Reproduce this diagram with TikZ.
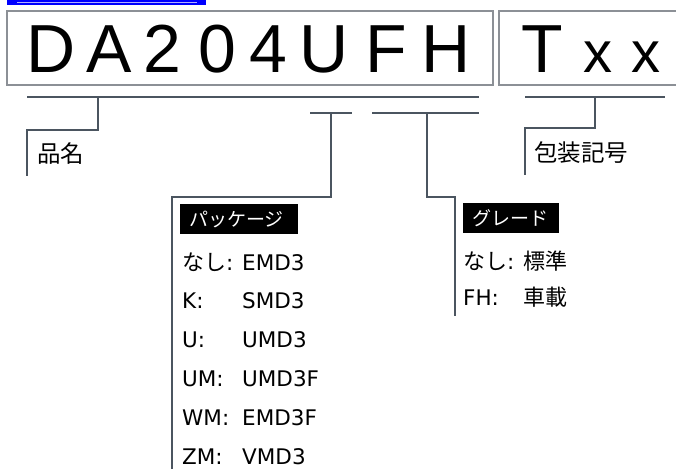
\documentclass[tikz,border=0pt]{standalone}
\usepackage{fontspec}
\setmainfont{Liberation Sans}
\newfontfamily\jp{Noto Sans CJK JP}
\newfontfamily\lat{DejaVu Sans}
\definecolor{ln}{HTML}{4B5560}
\definecolor{bx}{HTML}{8C9096}
\definecolor{lnk}{HTML}{0000FF}
\tikzset{
  conn/.style={draw=ln, line width=2.9pt},
  frame/.style={draw=bx, line width=1.2pt},
  big/.style={anchor=base, inner sep=0pt, font=\fontsize{68}{68}\selectfont},
  small/.style={anchor=base, inner sep=0pt, font=\fontsize{58}{58}\selectfont},
  lab/.style={anchor=west, inner sep=0pt, font=\jp\fontsize{23.5}{23.5}\selectfont},
  tag/.style={fill=black, text=white, anchor=north west, minimum height=30pt, inner xsep=9pt, inner ysep=0pt, align=left, font=\jp\fontsize{19}{19}\selectfont},
  row/.style={anchor=base west, inner sep=0pt, text depth=0pt, font=\lat\fontsize{21.5}{21.5}\selectfont},
  rowjp/.style={anchor=base west, inner sep=0pt, text depth=0pt, font=\jp\fontsize{22}{22}\selectfont},
}
\begin{document}
\begin{tikzpicture}[x=1pt, y=-1pt]
\useasboundingbox (0,0) rectangle (676,468);
% link bar
\fill[lnk] (7,0) rectangle (206,5);
\draw[white!70!lnk, line width=1pt] (17,2.7) -- (197,2.7);
% boxes
\draw[frame] (7,11) rectangle (493,85);
\draw[frame] (690,11) -- (499,11) -- (499,85) -- (690,85);
% big letters
\foreach \c/\x [count=\i] in {D/51,A/109,2/162,0/217,4/268,U/324,F/386,H/446}
  \node[big] (L\i) at (\x,73) {\c};
\node[big] (T1) at (542,73) {T};
\node[small] (T2) at (598,73) {x};
\node[small] (T3) at (646,73) {x};
% bars
\coordinate (n1) at (27,97);
\coordinate (n2) at (479,97);
\coordinate (p1) at (310,113);
\coordinate (p2) at (352,113);
\coordinate (g1) at (372,113);
\coordinate (g2) at (479,113);
\coordinate (t1) at (525,97);
\coordinate (t2) at (665,97);
\draw[conn] (n1) -- (n2);
\draw[conn] (p1) -- (p2);
\draw[conn] (g1) -- (g2);
\draw[conn] (t1) -- (t2);
% labels
\node[lab] (name) at (37,154) {品名};
\node[lab] (pack) at (534,153) {包装記号};
\node[tag, text width=100pt] (pkg) at (180,204) {パッケージ};
\node[tag, text width=78pt] (grd) at (463,203) {グレード};
% brackets
\coordinate (nd) at (27,176);
\coordinate (pd) at (172,475);
\coordinate (gd) at (455,316);
\coordinate (td) at (525,175);
\draw[conn] (98,97) -- (98,130) -- (27,130) -- (nd);
\draw[conn] (331,113) -- (331,197) -- (172,197) -- (pd);
\draw[conn] (427,113) -- (427,197) -- (455,197) -- (gd);
\draw[conn] (595,97) -- (595,128) -- (525,128) -- (td);
% package rows
\node[row] (pk1) at (182,270) {{\jp\fontsize{22}{22}\selectfont なし}:};
\node[row] (pv1) at (242,270) {EMD3};
\foreach \k/\v/\y [count=\i from 2] in {K:/SMD3/308.8, U:/UMD3/347.6, UM:/UMD3F/386.4, WM:/EMD3F/425.2, ZM:/VMD3/464}{
  \node[row] (pk\i) at (182,\y) {\k};
  \node[row] (pv\i) at (242,\y) {\v};
}
% grade rows
\node[row] (gk1) at (463,269) {{\jp\fontsize{22}{22}\selectfont なし}:};
\node[rowjp] (gv1) at (523,269) {標準};
\node[row] (gk2) at (463,305) {FH:};
\node[rowjp] (gv2) at (523,305) {車載};
\end{tikzpicture}
\end{document}
